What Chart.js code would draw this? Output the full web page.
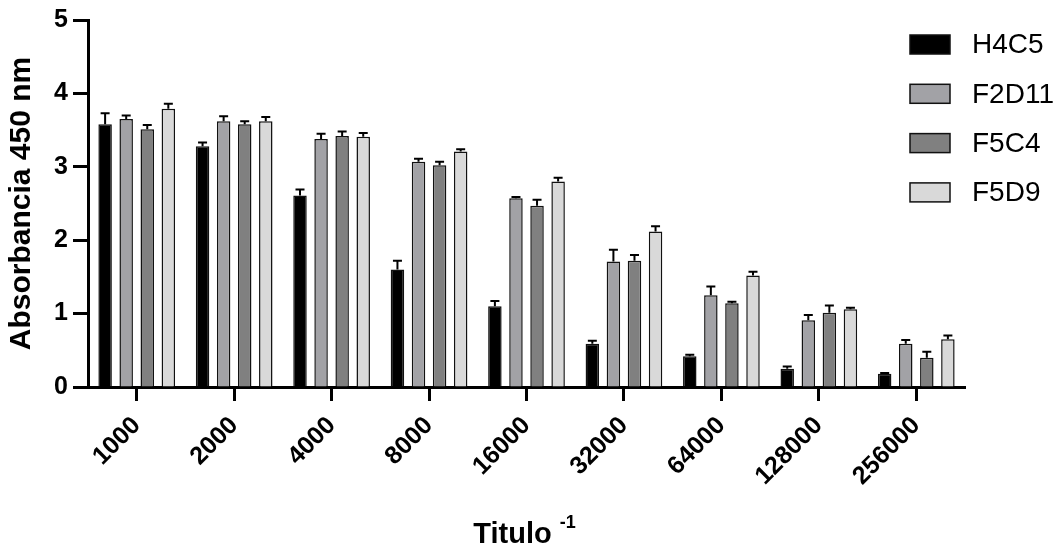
<!DOCTYPE html>
<html>
<head>
<meta charset="utf-8">
<script src="https://cdn.jsdelivr.net/npm/chart.js@4"></script>
<style>
  html, body { margin: 0; padding: 0; background: #fff; }
</style>
</head>
<body>
<canvas id="myBarChart" width="1064" height="558"></canvas>
<script>
// Absorbance at 450 nm by titre, four clones, mean + SD (upper error only)
const titres = ["1000", "2000", "4000", "8000", "16000", "32000", "64000", "128000", "256000"];
const seriesNames = ["H4C5", "F2D11", "F5C4", "F5D9"];

const h4c5 = [3.58, 3.28, 2.61, 1.60, 1.10, 0.59, 0.42, 0.25, 0.18];
const f2d11 = [3.65, 3.62, 3.38, 3.07, 2.57, 1.71, 1.25, 0.91, 0.59];
const f5c4 = [3.51, 3.58, 3.42, 3.02, 2.47, 1.72, 1.14, 1.01, 0.40];
const f5d9 = [3.79, 3.62, 3.41, 3.21, 2.80, 2.12, 1.52, 1.06, 0.65];

const h4c5Err = [0.15, 0.05, 0.08, 0.12, 0.07, 0.04, 0.02, 0.03, 0.01];
const f2d11Err = [0.05, 0.07, 0.07, 0.04, 0.02, 0.16, 0.12, 0.07, 0.05];
const f5c4Err = [0.06, 0.04, 0.06, 0.05, 0.08, 0.08, 0.02, 0.10, 0.08];
const f5d9Err = [0.07, 0.06, 0.05, 0.03, 0.05, 0.07, 0.05, 0.02, 0.05];

const yTicks = [0, 1, 2, 3, 4, 5];
const xTitle = "Titulo";
const xTitleSup = "-1";
const yTitle = "Absorbancia 450 nm";

const FONT = "'Liberation Sans', Arial, Helvetica, sans-serif";
const fills = ["#000000", "#a2a2a6", "#808080", "#d9d9d9"];
const values = [h4c5, f2d11, f5c4, f5d9];
const errors = [h4c5Err, f2d11Err, f5c4Err, f5d9Err];

// upward SD whiskers on each bar
const errorBars = {
    id: "errorBars",
    afterDatasetsDraw(chart) {
        const ctx = chart.ctx;
        const y = chart.scales.y;
        ctx.save();
        ctx.strokeStyle = "#000";
        ctx.lineWidth = 2;
        chart.data.datasets.forEach((ds, i) => {
            const meta = chart.getDatasetMeta(i);
            meta.data.forEach((bar, j) => {
                const top = y.getPixelForValue(ds.data[j] + ds.errors[j]);
                ctx.beginPath();
                ctx.moveTo(bar.x, bar.y);
                ctx.lineTo(bar.x, top);
                ctx.moveTo(bar.x - 4.5, top);
                ctx.lineTo(bar.x + 4.5, top);
                ctx.stroke();
            });
        });
        ctx.restore();
    }
};

// legend on the right, overlapping the plot area like the original
const sideLegend = {
    id: "sideLegend",
    afterDraw(chart) {
        const ctx = chart.ctx;
        ctx.save();
        ctx.font = "28px " + FONT;
        ctx.textBaseline = "middle";
        chart.data.datasets.forEach((ds, i) => {
            const cy = 44.5 + i * 49.3;
            ctx.fillStyle = ds.backgroundColor;
            ctx.fillRect(910, cy - 9.5, 40, 19);
            ctx.strokeStyle = "#111";
            ctx.lineWidth = 1.5;
            ctx.strokeRect(910, cy - 9.5, 40, 19);
            ctx.fillStyle = "#000";
            ctx.fillText(ds.label, 972, cy + 1);
        });
        ctx.restore();
    }
};

// x title with superscript
const xTitlePlugin = {
    id: "xTitlePlugin",
    afterDraw(chart) {
        const ctx = chart.ctx;
        const area = chart.chartArea;
        ctx.save();
        ctx.fillStyle = "#000";
        ctx.textBaseline = "alphabetic";
        ctx.font = "bold 29px " + FONT;
        const w1 = ctx.measureText(xTitle + " ").width;
        ctx.font = "bold 18px " + FONT;
        const w2 = ctx.measureText(xTitleSup).width;
        const x0 = (area.left + area.right) / 2 - (w1 + w2) / 2 - 2;
        ctx.font = "bold 29px " + FONT;
        ctx.fillText(xTitle, x0, 543);
        ctx.font = "bold 18px " + FONT;
        ctx.fillText(xTitleSup, x0 + w1, 528);
        ctx.restore();
    }
};

document.addEventListener("DOMContentLoaded", function () {
    const ctx = document.getElementById("myBarChart").getContext("2d");

    const data = {
        labels: titres,
        datasets: seriesNames.map((name, i) => ({
            label: name,
            data: values[i],
            errors: errors[i],
            backgroundColor: fills[i],
            borderColor: "#111",
            borderWidth: 1.5,
            categoryPercentage: 0.865,
            barPercentage: 0.64
        }))
    };

    const tickFont = { family: FONT, size: 25, weight: "bold" };

    const options = {
        responsive: false,
        animation: false,
        layout: { padding: { top: 19, right: 99, left: 0, bottom: 0 } },
        plugins: {
            legend: { display: false },
            tooltip: { enabled: false }
        },
        scales: {
            x: {
                grid: {
                    display: true,
                    drawOnChartArea: false,
                    drawTicks: true,
                    offset: false,
                    tickLength: 14,
                    tickWidth: 3,
                    tickColor: "#000"
                },
                border: { display: true, width: 3, color: "#000" },
                ticks: {
                    color: "#000",
                    font: tickFont,
                    maxRotation: 45,
                    minRotation: 45,
                    padding: 10
                },
                afterFit(scale) { scale.height = 171; }
            },
            y: {
                min: 0,
                max: 5,
                afterBuildTicks(scale) { scale.ticks = yTicks.map(v => ({ value: v })); },
                grid: {
                    display: true,
                    drawOnChartArea: false,
                    drawTicks: true,
                    tickLength: 15,
                    tickWidth: 3,
                    tickColor: "#000"
                },
                border: { display: true, width: 3, color: "#000" },
                ticks: { color: "#000", font: tickFont, padding: 5 },
                title: {
                    display: true,
                    text: yTitle,
                    color: "#000",
                    font: { family: FONT, size: 30, weight: "bold" },
                    padding: { top: 4, bottom: 0 }
                },
                afterFit(scale) { scale.width = 88; }
            }
        }
    };

    new Chart(ctx, {
        type: "bar",
        data: data,
        options: options,
        plugins: [errorBars, sideLegend, xTitlePlugin]
    });
});
</script>
</body>
</html>
